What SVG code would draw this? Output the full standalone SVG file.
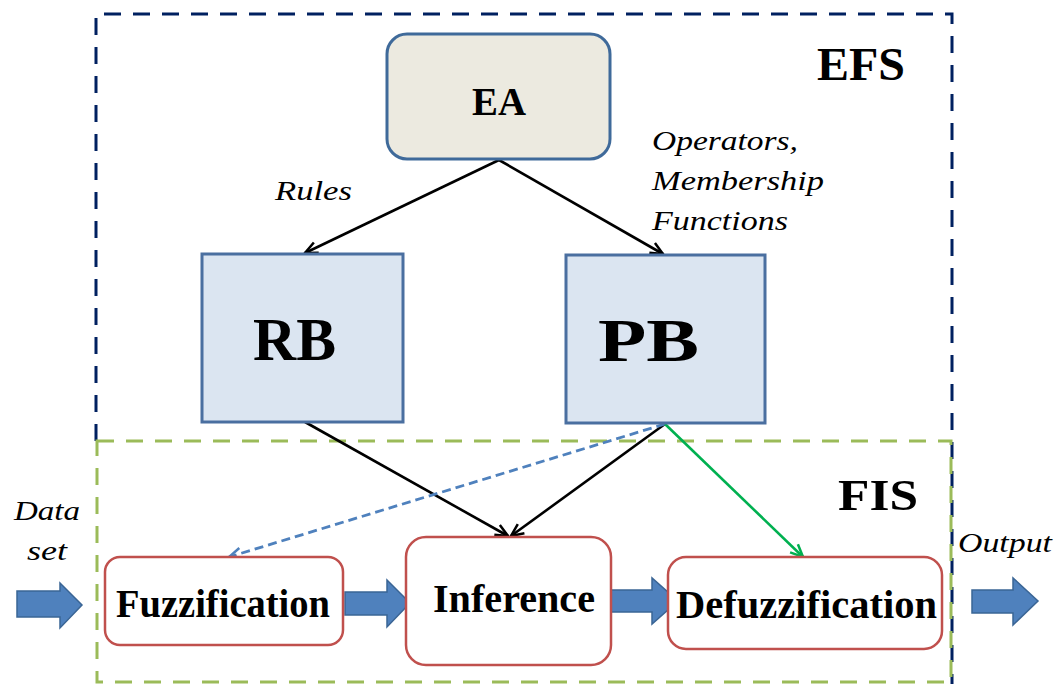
<svg xmlns="http://www.w3.org/2000/svg" width="1056" height="684" viewBox="0 0 1056 684">
<defs>
<style>
.bold{font-family:'Liberation Serif','Times New Roman',Times,serif;font-weight:bold;fill:#000}
.ital{font-family:'Liberation Serif','Times New Roman',Times,serif;font-style:italic;fill:#000}
.blue{fill:#DBE5F1;stroke:#4A6FA0;stroke-width:3}
.red{fill:#fff;stroke:#C0504D;stroke-width:2.5}
.conn{fill:none;stroke:#000;stroke-width:2.6}
.barrow{fill:#4F81BD;stroke:#3A6595;stroke-width:1.5}
</style>
<marker id="ah" viewBox="0 0 12 12" refX="11" refY="6" markerWidth="15" markerHeight="15" markerUnits="userSpaceOnUse" orient="auto">
<path d="M1,1.5 L11,6 L1,10.5" fill="none" stroke="#000" stroke-width="2"/>
</marker>
<marker id="ahb" viewBox="0 0 12 12" refX="11" refY="6" markerWidth="15" markerHeight="15" markerUnits="userSpaceOnUse" orient="auto">
<path d="M1,1.5 L11,6 L1,10.5" fill="none" stroke="#4F81BD" stroke-width="2"/>
</marker>
<marker id="ahg" viewBox="0 0 12 12" refX="11" refY="6" markerWidth="15" markerHeight="15" markerUnits="userSpaceOnUse" orient="auto">
<path d="M1,1.5 L11,6 L1,10.5" fill="none" stroke="#00B050" stroke-width="2"/>
</marker>
</defs>
<rect width="1056" height="684" fill="#fff"/>

<g id="EFS">
<path d="M96,441 L96,14 L952,14 L952,684" fill="none" stroke="#002060" stroke-width="3" stroke-dasharray="17,12"/>
<text class="bold" x="817" y="80" font-size="46" textLength="88" lengthAdjust="spacingAndGlyphs">EFS</text>
</g>
<g id="FIS">
<rect x="97" y="441" width="854" height="241" fill="none" stroke="#9BBB59" stroke-width="3" stroke-dasharray="17,12"/>
<text class="bold" x="838" y="510" font-size="45" textLength="80" lengthAdjust="spacingAndGlyphs">FIS</text>
</g>

<g id="connectors">
<line class="conn" x1="499" y1="160" x2="305" y2="253" marker-end="url(#ah)"/>
<line class="conn" x1="499" y1="160" x2="663" y2="254" marker-end="url(#ah)"/>
<line class="conn" x1="305" y1="422" x2="508" y2="536" marker-end="url(#ah)"/>
<line class="conn" x1="665" y1="424" x2="511" y2="536" marker-end="url(#ah)"/>
<line x1="665" y1="424" x2="229" y2="557" fill="none" stroke="#4F81BD" stroke-width="2.8" stroke-dasharray="9,5" marker-end="url(#ahb)"/>
<line x1="665" y1="424" x2="803" y2="557" fill="none" stroke="#00B050" stroke-width="2.6" marker-end="url(#ahg)"/>
<path class="barrow" d="M17,591 L60,591 L60,583 L82,605 L60,628 L60,617 L17,617 Z"/>
<path class="barrow" d="M345,592 L387,592 L387,580 L410,603 L387,627 L387,615 L345,615 Z"/>
<path class="barrow" d="M610,590 L652,590 L652,578 L678,601 L652,624 L652,612 L610,612 Z"/>
<path class="barrow" d="M972,590 L1013,590 L1013,578 L1038,601 L1013,625 L1013,613 L972,613 Z"/>
<text class="ital" x="275" y="200" font-size="28" textLength="77" lengthAdjust="spacingAndGlyphs">Rules</text>
<text class="ital" x="652" y="150" font-size="28" textLength="146" lengthAdjust="spacingAndGlyphs">Operators,</text>
<text class="ital" x="652" y="190" font-size="28" textLength="172" lengthAdjust="spacingAndGlyphs">Membership</text>
<text class="ital" x="652" y="230" font-size="28" textLength="136" lengthAdjust="spacingAndGlyphs">Functions</text>
<text class="ital" x="14" y="520" font-size="28" textLength="66" lengthAdjust="spacingAndGlyphs">Data</text>
<text class="ital" x="27" y="560" font-size="28" textLength="40" lengthAdjust="spacingAndGlyphs">set</text>
<text class="ital" x="958" y="552" font-size="28" textLength="94" lengthAdjust="spacingAndGlyphs">Output</text>
</g>

<g id="EA">
<rect x="387" y="34" width="223" height="125" rx="20" fill="#ECEAE0" stroke="#3F6A9A" stroke-width="3"/>
<text class="bold" x="472" y="115" font-size="40" textLength="54" lengthAdjust="spacingAndGlyphs">EA</text>
</g>
<g id="RB">
<rect class="blue" x="202" y="254" width="201" height="168"/>
<text class="bold" x="253" y="360" font-size="62" textLength="83" lengthAdjust="spacingAndGlyphs">RB</text>
</g>
<g id="PB">
<rect class="blue" x="566" y="255" width="199" height="168"/>
<text class="bold" x="598" y="361" font-size="62" textLength="101" lengthAdjust="spacingAndGlyphs">PB</text>
</g>
<g id="Fuzzification">
<rect class="red" x="105" y="557" width="238" height="88" rx="15"/>
<text class="bold" x="116" y="617" font-size="40" textLength="214" lengthAdjust="spacingAndGlyphs">Fuzzification</text>
</g>
<g id="Inference">
<rect class="red" x="406" y="537" width="205" height="128" rx="20"/>
<text class="bold" x="433" y="612" font-size="40" textLength="162" lengthAdjust="spacingAndGlyphs">Inference</text>
</g>
<g id="Defuzzification">
<rect class="red" x="668" y="557" width="274" height="92" rx="18"/>
<text class="bold" x="676" y="618" font-size="40" textLength="261" lengthAdjust="spacingAndGlyphs">Defuzzification</text>
</g>
</svg>
